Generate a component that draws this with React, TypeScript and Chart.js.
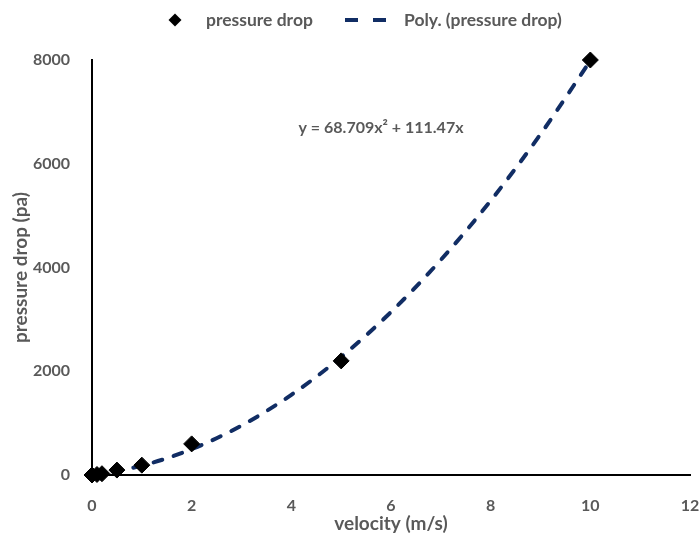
import React, { useEffect, useRef } from "react";
import { Chart, registerables } from "chart.js";

Chart.register(...registerables);

const velocity = [0, 0.1, 0.2, 0.5, 1, 2, 5, 10];
const pressureDrop = [0, 10, 25, 95, 190, 600, 2200, 8000];

const trendX = [0, 1, 2, 3, 4, 5, 6, 7, 8, 9, 10];
const trendY = [0, 180, 498, 953, 1545, 2275, 3142, 4147, 5288, 6569, 7986];

const xTicks = [0, 2, 4, 6, 8, 10, 12];
const yTicks = [0, 2000, 4000, 6000, 8000];

const seriesLabel = "pressure drop";
const trendLabel = "Poly. (pressure drop)";
const equationText = "y = 68.709x\u00B2 + 111.47x";
const xTitle = "velocity (m/s)";
const yTitle = "pressure drop (pa)";

const FONT = "Lato, 'Open Sans', sans-serif";
const GRAY = "#595959";
const NAVY = "#112D64";

const overlayPlugin = {
  id: "overlay",
  afterDraw(chart: any) {
    const ctx = chart.ctx;
    ctx.save();
    ctx.font = `bold 17.5px ${FONT}`;
    ctx.fillStyle = GRAY;
    ctx.textBaseline = "middle";
    ctx.textAlign = "left";
    // legend
    const ly = 20;
    ctx.save();
    ctx.fillStyle = "#000";
    ctx.beginPath();
    ctx.moveTo(175, ly - 6.5);
    ctx.lineTo(181.5, ly);
    ctx.lineTo(175, ly + 6.5);
    ctx.lineTo(168.5, ly);
    ctx.closePath();
    ctx.fill();
    ctx.restore();
    ctx.fillText(seriesLabel, 206, ly);
    ctx.save();
    ctx.strokeStyle = NAVY;
    ctx.lineWidth = 4;
    ctx.setLineDash([13, 15]);
    ctx.beginPath();
    ctx.moveTo(345, ly);
    ctx.lineTo(388, ly);
    ctx.stroke();
    ctx.restore();
    ctx.fillText(trendLabel, 404, ly);
    // equation
    ctx.font = `bold 16px ${FONT}`;
    const xs = chart.scales.x;
    const ys = chart.scales.y;
    ctx.textAlign = "center";
    ctx.fillText(equationText, xs.getPixelForValue(5.8), ys.getPixelForValue(6700));
    ctx.restore();
  },
};

export default function App() {
  const ref = useRef<HTMLCanvasElement>(null);
  useEffect(() => {
    document.body.style.margin = "0";
    const tickFont = { family: FONT, size: 16, weight: "bold" as const };
    const titleFont = { family: FONT, size: 19, weight: "bold" as const };
    const chart = new Chart(ref.current!, {
      type: "scatter",
      data: {
        datasets: [
          {
            label: trendLabel,
            data: trendX.map((x, i) => ({ x, y: trendY[i] })),
            showLine: true,
            borderColor: NAVY,
            borderWidth: 4,
            borderDash: [9, 12],
            borderCapStyle: "round",
            cubicInterpolationMode: "monotone",
            pointRadius: 0,
            clip: false,
            order: 2,
          } as any,
          {
            label: seriesLabel,
            data: velocity.map((x, i) => ({ x, y: pressureDrop[i] })),
            pointStyle: "rectRot",
            pointRadius: 8,
            backgroundColor: "#000",
            borderColor: "#000",
            borderWidth: 1,
            clip: false,
            order: 1,
          } as any,
        ],
      },
      options: {
        animation: false,
        responsive: false,
        layout: { padding: { left: 0, top: 60, right: 0, bottom: 0 } },
        plugins: { legend: { display: false }, tooltip: { enabled: false } },
        scales: {
          x: {
            type: "linear",
            min: 0,
            max: 12,
            afterBuildTicks: (s: any) => {
              s.ticks = xTicks.map((v) => ({ value: v }));
            },
            afterFit: (s: any) => {
              s.height = 64;
              s.paddingRight = 9;
              s.paddingLeft = 0;
            },
            grid: { display: false },
            border: { display: true, color: "#000", width: 2 },
            ticks: { color: GRAY, font: tickFont, padding: 13, callback: (v: any) => String(v) },
            title: {
              display: true,
              text: xTitle,
              color: GRAY,
              font: titleFont,
              padding: { top: 0, bottom: 4 },
            },
          },
          y: {
            type: "linear",
            min: 0,
            max: 8000,
            afterBuildTicks: (s: any) => {
              s.ticks = yTicks.map((v) => ({ value: v }));
            },
            afterFit: (s: any) => {
              s.width = 92;
            },
            grid: { display: false },
            border: { display: true, color: "#000", width: 2 },
            ticks: { color: GRAY, font: tickFont, padding: 14, callback: (v: any) => String(v) },
            title: {
              display: true,
              text: yTitle,
              color: GRAY,
              font: titleFont,
              padding: { top: 9, bottom: 0 },
            },
          },
        },
      },
      plugins: [overlayPlugin],
    });
    return () => chart.destroy();
  }, []);
  return (
    <div style={{ position: "absolute", left: 0, top: 0, width: 699, height: 539, background: "#fff" }}>
      <canvas ref={ref} width={699} height={539} style={{ width: 699, height: 539 }} />
    </div>
  );
}
